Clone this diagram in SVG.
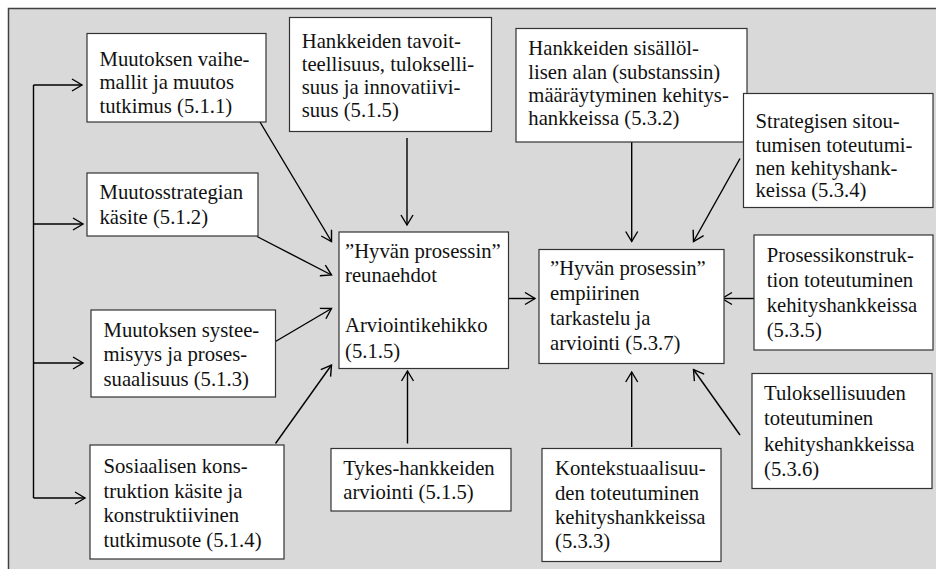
<svg xmlns="http://www.w3.org/2000/svg" width="936" height="569" viewBox="0 0 936 569">
  <style>
    .box { fill: #ffffff; stroke: #333333; stroke-width: 1.2; }
    .lbl { font-family: "Liberation Serif", serif; font-size: 20.7px; fill: #111111; }
    .con { fill: none; stroke: #000000; stroke-width: 1.4; }
  </style>
  <defs>
    <!-- open V arrowhead used by all connectors -->
    <marker id="open" markerUnits="userSpaceOnUse" markerWidth="14" markerHeight="16" refX="11" refY="7" orient="auto">
      <path d="M1,1 L11,7 L1,13" fill="none" stroke="#000" stroke-width="1.4"/>
    </marker>
    <!-- small filled arrowhead inside the framework box -->
    <marker id="solid" markerUnits="userSpaceOnUse" markerWidth="12" markerHeight="10" refX="10" refY="4.5" orient="auto">
      <path d="M0,0 L10,4.5 L0,9 Z" fill="#000"/>
    </marker>
  </defs>

  <!-- background frame -->
  <rect x="0" y="0" width="936" height="569" fill="#ffffff"/>
  <rect x="8.5" y="8.5" width="940" height="580" fill="#d9d9d9" stroke="#404040" stroke-width="1.5"/>

  <!-- connectors -->
  <g id="connectors">
    <path class="con" d="M33.5,85 L33.5,498"/>
    <path class="con" d="M33.5,85 L82,85" marker-end="url(#open)"/>
    <path class="con" d="M33.5,224 L83,224" marker-end="url(#open)"/>
    <path class="con" d="M33.5,363 L83,363" marker-end="url(#open)"/>
    <path class="con" d="M33.5,498 L85,498" marker-end="url(#open)"/>

    <path class="con" d="M260,122 L331.5,241.5" marker-end="url(#open)"/>
    <path class="con" d="M257,236.5 L331.5,275" marker-end="url(#open)"/>
    <path class="con" d="M275.5,341.5 L331.5,308.5" marker-end="url(#open)"/>
    <path class="con" d="M275.5,443.5 L331.5,365" marker-end="url(#open)"/>
    <path class="con" d="M407,138 L407,225" marker-end="url(#open)"/>
    <path class="con" d="M407.5,443.5 L407.5,371" marker-end="url(#open)"/>
    <path class="con" d="M407.3,285 L407.3,317" marker-end="url(#solid)"/>

    <path class="con" d="M508.5,298.5 L535,298.5" marker-end="url(#open)"/>

    <path class="con" d="M631.7,142 L631.7,241.5" marker-end="url(#open)"/>
    <path class="con" d="M740,158.5 L693.5,241.5" marker-end="url(#open)"/>
    <path class="con" d="M754,298.5 L722,298.5" marker-end="url(#open)"/>
    <path class="con" d="M631.7,447 L631.7,372" marker-end="url(#open)"/>
    <path class="con" d="M740,435 L693.5,369.5" marker-end="url(#open)"/>
  </g>

  <!-- left column -->
  <g id="n511">
    <rect class="box" x="87" y="33.5" width="179" height="88.5"/>
    <text class="lbl" x="99.5" y="65.5">Muutoksen vaihe-</text>
    <text class="lbl" x="99.5" y="89.3">mallit ja muutos</text>
    <text class="lbl" x="99.5" y="113">tutkimus (5.1.1)</text>
  </g>
  <g id="n512">
    <rect class="box" x="87" y="173" width="171" height="63"/>
    <text class="lbl" x="99.5" y="199">Muutosstrategian</text>
    <text class="lbl" x="99.5" y="223.5">käsite (5.1.2)</text>
  </g>
  <g id="n513">
    <rect class="box" x="91" y="310" width="184.5" height="87"/>
    <text class="lbl" x="103.5" y="336.5">Muutoksen systee-</text>
    <text class="lbl" x="103.5" y="361">misyys ja proses-</text>
    <text class="lbl" x="103.5" y="385.5">suaalisuus (5.1.3)</text>
  </g>
  <g id="n514">
    <rect class="box" x="90" y="445" width="194" height="114"/>
    <text class="lbl" x="103.5" y="472.7">Sosiaalisen kons-</text>
    <text class="lbl" x="103.5" y="497.5">truktion käsite ja</text>
    <text class="lbl" x="103.5" y="522">konstruktiivinen</text>
    <text class="lbl" x="103.5" y="546.5">tutkimusote (5.1.4)</text>
  </g>

  <!-- middle column -->
  <g id="n515a">
    <rect class="box" x="289.5" y="17.5" width="202" height="114"/>
    <text class="lbl" x="301.7" y="47.7">Hankkeiden tavoit-</text>
    <text class="lbl" x="301.7" y="71">teellisuus, tulokselli-</text>
    <text class="lbl" x="301.7" y="94.3">suus ja innovatiivi-</text>
    <text class="lbl" x="301.7" y="117">suus (5.1.5)</text>
  </g>
  <g id="nFrame">
    <rect class="box" x="339" y="232" width="169.5" height="136.5"/>
    <text class="lbl" x="345" y="258.3">”Hyvän prosessin”</text>
    <text class="lbl" x="345" y="281.7">reunaehdot</text>
    <text class="lbl" x="345" y="332">Arviointikehikko</text>
    <text class="lbl" x="345" y="358">(5.1.5)</text>
  </g>
  <g id="n515b">
    <rect class="box" x="331" y="448.5" width="180" height="62.5"/>
    <text class="lbl" x="343.3" y="475">Tykes-hankkeiden</text>
    <text class="lbl" x="343.3" y="498.5">arviointi (5.1.5)</text>
  </g>

  <!-- right side -->
  <g id="n532">
    <rect class="box" x="516" y="28.5" width="231" height="113.5"/>
    <text class="lbl" x="528.3" y="55">Hankkeiden sisällöl-</text>
    <text class="lbl" x="528.3" y="78.5">lisen alan (substanssin)</text>
    <text class="lbl" x="528.3" y="102">määräytyminen kehitys-</text>
    <text class="lbl" x="528.3" y="125">hankkeissa (5.3.2)</text>
  </g>
  <g id="n537">
    <rect class="box" x="539" y="249.5" width="185" height="114"/>
    <text class="lbl" x="550" y="275">”Hyvän prosessin”</text>
    <text class="lbl" x="550" y="300">empiirinen</text>
    <text class="lbl" x="550" y="325">tarkastelu ja</text>
    <text class="lbl" x="550" y="350">arviointi (5.3.7)</text>
  </g>
  <g id="n533">
    <rect class="box" x="542" y="448.5" width="179" height="113"/>
    <text class="lbl" x="555" y="475">Kontekstuaalisuu-</text>
    <text class="lbl" x="555" y="500">den toteutuminen</text>
    <text class="lbl" x="555" y="524">kehityshankkeissa</text>
    <text class="lbl" x="555" y="548">(5.3.3)</text>
  </g>
  <g id="n534">
    <rect class="box" x="743.5" y="93.5" width="189.5" height="114"/>
    <text class="lbl" x="755.5" y="128.3">Strategisen sitou-</text>
    <text class="lbl" x="755.5" y="151.7">tumisen toteutumi-</text>
    <text class="lbl" x="755.5" y="175">nen kehityshank-</text>
    <text class="lbl" x="755.5" y="197">keissa (5.3.4)</text>
  </g>
  <g id="n535">
    <rect class="box" x="754" y="235" width="179" height="115"/>
    <text class="lbl" x="766.7" y="261.7">Prosessikonstruk-</text>
    <text class="lbl" x="766.7" y="286.7">tion toteutuminen</text>
    <text class="lbl" x="766.7" y="311.7">kehityshankkeissa</text>
    <text class="lbl" x="766.7" y="336.7">(5.3.5)</text>
  </g>
  <g id="n536">
    <rect class="box" x="752" y="373.5" width="180" height="115"/>
    <text class="lbl" x="764" y="400">Tuloksellisuuden</text>
    <text class="lbl" x="764" y="425">toteutuminen</text>
    <text class="lbl" x="764" y="451">kehityshankkeissa</text>
    <text class="lbl" x="764" y="476">(5.3.6)</text>
  </g>
</svg>
